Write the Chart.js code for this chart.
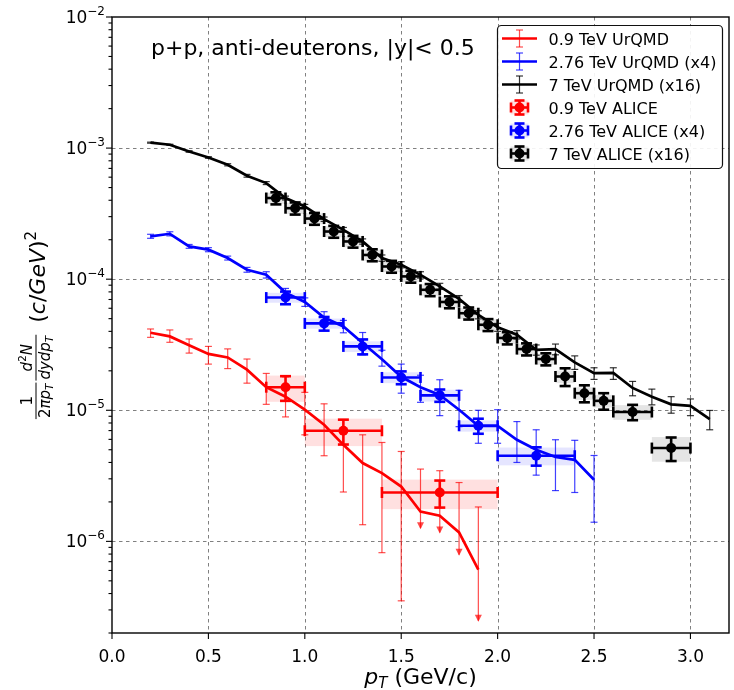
<!DOCTYPE html>
<html>
<head>
<meta charset="utf-8">
<script src="https://cdn.jsdelivr.net/npm/chart.js@4.4.0/dist/chart.umd.min.js"></script>
<style>
  html, body { margin:0; padding:0; background:#fff; }
  #wrap { width:734px; height:690px; }
</style>
</head>
<body>
<div id="wrap"><canvas id="c" width="734" height="690"></canvas></div>
<script>
/* ---------- data ---------- */

// UrQMD 0.9 TeV
const urq09X  = [0.2,0.3,0.4,0.5,0.6,0.7,0.8,0.9,1.0,1.1,1.2,1.3,1.4,1.5,1.6,1.7,1.8,1.9];
const urq09Y  = [3.9e-5,3.66e-5,3.13e-5,2.69e-5,2.53e-5,2.04e-5,1.50e-5,1.27e-5,1.01e-5,7.75e-6,5.45e-6,3.96e-6,3.32e-6,2.62e-6,1.69e-6,1.57e-6,1.17e-6,6.1e-7];
const urq09Lo = [3.6e-5,3.3e-5,2.73e-5,2.25e-5,2.08e-5,1.61e-5,1.11e-5,8.9e-6,6.5e-6,4.5e-6,2.38e-6,1.34e-6,8.2e-7,3.52e-7,1.26e-6,1.17e-6,7.9e-7,2.48e-7];
const urq09Hi = [4.17e-5,4.1e-5,3.5e-5,3.07e-5,2.94e-5,2.46e-5,1.91e-5,1.80e-5,1.37e-5,1.12e-5,8.47e-6,6.5e-6,5.68e-6,4.85e-6,3.56e-6,3.46e-6,2.81e-6,1.83e-6];
const urq09Arrow = [0,0,0,0,0,0,0,0,0,0,0,0,0,0,1,1,1,1];

// UrQMD 2.76 TeV (x4)
const urq276X  = [0.2,0.3,0.4,0.5,0.6,0.7,0.8,0.9,1.0,1.1,1.2,1.3,1.4,1.5,1.6,1.7,1.8,1.9,2.0,2.1,2.2,2.3,2.4,2.5];
const urq276Y  = [2.12e-4,2.22e-4,1.78e-4,1.68e-4,1.45e-4,1.18e-4,1.08e-4,7.9e-5,6.7e-5,5.1e-5,4.36e-5,3.26e-5,2.45e-5,1.8e-5,1.5e-5,1.31e-5,1.01e-5,7.6e-6,7.6e-6,5.96e-6,5.0e-6,4.4e-6,4.19e-6,2.95e-6];
const urq276Lo = [2.05e-4,2.14e-4,1.72e-4,1.62e-4,1.40e-4,1.13e-4,1.02e-4,7.35e-5,6.2e-5,4.6e-5,3.9e-5,2.65e-5,2.17e-5,1.35e-5,1.15e-5,9.1e-6,7.5e-6,5.6e-6,5.6e-6,4.0e-6,3.2e-6,2.44e-6,2.36e-6,1.40e-6];
const urq276Hi = [2.2e-4,2.3e-4,1.84e-4,1.74e-4,1.50e-4,1.23e-4,1.14e-4,8.5e-5,7.2e-5,5.65e-5,4.85e-5,3.92e-5,2.87e-5,2.25e-5,1.85e-5,1.71e-5,1.42e-5,1.0e-5,1.01e-5,8.2e-6,7.1e-6,5.96e-6,5.9e-6,4.52e-6];

// UrQMD 7 TeV (x16)
const urq7X  = [0.2,0.3,0.4,0.5,0.6,0.7,0.8,0.9,1.0,1.1,1.2,1.3,1.4,1.5,1.6,1.7,1.8,1.9,2.0,2.1,2.2,2.3,2.4,2.5,2.6,2.7,2.8,2.9,3.0,3.1];
const urq7Y  = [1.10e-3,1.06e-3,9.42e-4,8.48e-4,7.46e-4,6.15e-4,5.41e-4,4.16e-4,3.59e-4,2.87e-4,2.38e-4,1.94e-4,1.45e-4,1.29e-4,1.08e-4,8.8e-5,7.08e-5,5.35e-5,4.3e-5,3.77e-5,2.89e-5,2.93e-5,2.32e-5,1.92e-5,1.93e-5,1.48e-5,1.27e-5,1.11e-5,1.08e-5,8.57e-6];
const urq7Lo = [1.09e-3,1.05e-3,9.3e-4,8.36e-4,7.32e-4,6.0e-4,5.27e-4,4.02e-4,3.46e-4,2.76e-4,2.28e-4,1.85e-4,1.37e-4,1.22e-4,1.02e-4,8.35e-5,6.65e-5,4.98e-5,4.0e-5,3.5e-5,2.63e-5,2.65e-5,2.05e-5,1.72e-5,1.72e-5,1.29e-5,1.10e-5,9.5e-6,9.1e-6,7.1e-6];
const urq7Hi = [1.11e-3,1.07e-3,9.55e-4,8.6e-4,7.6e-4,6.3e-4,5.55e-4,4.3e-4,3.72e-4,2.98e-4,2.48e-4,2.03e-4,1.53e-4,1.36e-4,1.14e-4,9.3e-5,7.5e-5,5.75e-5,4.6e-5,4.05e-5,3.15e-5,3.2e-5,2.6e-5,2.11e-5,2.11e-5,1.66e-5,1.45e-5,1.27e-5,1.22e-5,9.97e-6];

// ALICE 0.9 TeV
const ali09X    = [0.9,1.2,1.7];
const ali09HalfW= [0.1,0.2,0.3];
const ali09Y    = [1.5e-5,6.98e-6,2.36e-6];
const ali09Stat = [3.2e-6,1.5e-6,5.5e-7];
const ali09Sys  = [3.4e-6,1.65e-6,6.0e-7];

// ALICE 2.76 TeV (x4)
const ali276X    = [0.9,1.1,1.3,1.5,1.7,1.9,2.2];
const ali276HalfW= [0.1,0.1,0.1,0.1,0.1,0.1,0.2];
const ali276Y    = [7.24e-5,4.6e-5,3.07e-5,1.78e-5,1.30e-5,7.62e-6,4.5e-6];
const ali276Stat = [8.0e-6,5.5e-6,4.0e-6,2.0e-6,1.4e-6,1.0e-6,7.2e-7];
const ali276Sys  = [6.3e-6,4.1e-6,2.9e-6,1.7e-6,1.35e-6,7.5e-7,7.0e-7];

// ALICE 7 TeV (x16)
const ali7X    = [0.85,0.95,1.05,1.15,1.25,1.35,1.45,1.55,1.65,1.75,1.85,1.95,2.05,2.15,2.25,2.35,2.45,2.55,2.7,2.9];
const ali7HalfW= [0.05,0.05,0.05,0.05,0.05,0.05,0.05,0.05,0.05,0.05,0.05,0.05,0.05,0.05,0.05,0.05,0.05,0.05,0.1,0.1];
const ali7Y    = [4.16e-4,3.48e-4,2.9e-4,2.31e-4,1.94e-4,1.53e-4,1.25e-4,1.05e-4,8.3e-5,6.7e-5,5.5e-5,4.49e-5,3.56e-5,2.93e-5,2.46e-5,1.81e-5,1.35e-5,1.18e-5,9.7e-6,5.15e-6];
const ali7Stat = [4.4e-5,3.7e-5,3.0e-5,2.4e-5,2.0e-5,1.6e-5,1.3e-5,1.1e-5,8.8e-6,7.0e-6,5.8e-6,4.7e-6,3.8e-6,3.1e-6,2.6e-6,2.8e-6,2.0e-6,1.7e-6,1.3e-6,1.05e-6];
const ali7Sys  = [4.0e-5,3.4e-5,2.8e-5,2.2e-5,1.9e-5,1.5e-5,1.2e-5,1.0e-5,8.2e-6,6.6e-6,5.4e-6,4.4e-6,3.5e-6,2.9e-6,2.4e-6,2.0e-6,1.5e-6,1.3e-6,1.25e-6,1.1e-6];

// axes / text
const xTicks   = [0.0,0.5,1.0,1.5,2.0,2.5,3.0];
const yDecades = [-6,-5,-4,-3,-2];
const X_MIN = 0, X_MAX = 3.2, Y_MIN = 2e-7, Y_MAX = 1e-2;
const TITLE = 'p+p, anti-deuterons, |y|< 0.5';
const legendLabels = ['0.9 TeV UrQMD','2.76 TeV UrQMD (x4)','7 TeV UrQMD (x16)',
                      '0.9 TeV ALICE','2.76 TeV ALICE (x4)','7 TeV ALICE (x16)'];

/* ---------- styling ---------- */
const RED = '#ff0000', BLUE = '#0000ff', BLK = '#000000';
const FONT = '"DejaVu Sans", sans-serif';

const urqmd = [
  { x:urq09X,  y:urq09Y,  lo:urq09Lo,  hi:urq09Hi,  arrow:urq09Arrow, col:RED,  bar:'rgba(255,0,0,0.7)' },
  { x:urq276X, y:urq276Y, lo:urq276Lo, hi:urq276Hi, arrow:null,       col:BLUE, bar:'rgba(0,0,255,0.75)' },
  { x:urq7X,   y:urq7Y,   lo:urq7Lo,   hi:urq7Hi,   arrow:null,       col:BLK,  bar:'rgba(0,0,0,0.8)' },
];
const alice = [
  { x:ali09X,  hw:ali09HalfW,  y:ali09Y,  stat:ali09Stat,  sys:ali09Sys,  col:RED,  box:'rgba(255,0,0,0.12)' },
  { x:ali276X, hw:ali276HalfW, y:ali276Y, stat:ali276Stat, sys:ali276Sys, col:BLUE, box:'rgba(0,0,255,0.10)' },
  { x:ali7X,   hw:ali7HalfW,   y:ali7Y,   stat:ali7Stat,   sys:ali7Sys,   col:BLK,  box:'rgba(0,0,0,0.10)' },
];

/* ---------- helpers ---------- */
function seg(ctx, x1, y1, x2, y2) {
  ctx.beginPath(); ctx.moveTo(x1, y1); ctx.lineTo(x2, y2); ctx.stroke();
}
// draw runs of text [{t,f,dy}] starting at x; returns width
function runs(ctx, parts, x, y, measure) {
  let w = 0;
  parts.forEach(p => {
    ctx.font = p.f;
    if (!measure) ctx.fillText(p.t, x + w, y + (p.dy || 0));
    w += ctx.measureText(p.t).width;
  });
  return w;
}

/* ---------- decoration plugin ---------- */
const decor = {
  id: 'decor',
  beforeDatasetsDraw(ch) {
    const ctx = ch.ctx, a = ch.chartArea, xs = ch.scales.x, ys = ch.scales.y;
    ctx.save();
    // grid
    ctx.strokeStyle = '#808080'; ctx.lineWidth = 1; ctx.setLineDash([3.5, 3.5]);
    xTicks.forEach(v => {
      if (v <= X_MIN) return;
      const px = Math.round(xs.getPixelForValue(v)) + 0.5;
      seg(ctx, px, a.top, px, a.bottom);
    });
    yDecades.forEach(d => {
      const py = Math.round(ys.getPixelForValue(Math.pow(10, d))) + 0.5;
      if (py <= a.top + 1) return;
      seg(ctx, a.left, py, a.right, py);
    });
    ctx.setLineDash([]);

    ctx.beginPath(); ctx.rect(a.left, a.top, a.right - a.left, a.bottom - a.top); ctx.clip();

    // systematic boxes
    alice.forEach(s => {
      ctx.fillStyle = s.box;
      s.x.forEach((x, i) => {
        const x1 = xs.getPixelForValue(x - s.hw[i]), x2 = xs.getPixelForValue(x + s.hw[i]);
        const y1 = ys.getPixelForValue(s.y[i] + s.sys[i]), y2 = ys.getPixelForValue(s.y[i] - s.sys[i]);
        ctx.fillRect(x1, y1, x2 - x1, y2 - y1);
      });
    });

    // UrQMD error bars (thin)
    urqmd.forEach(s => {
      ctx.strokeStyle = s.bar; ctx.fillStyle = s.bar; ctx.lineWidth = 1.2;
      s.x.forEach((x, i) => {
        const px = xs.getPixelForValue(x);
        const pHi = ys.getPixelForValue(s.hi[i]), pLo = ys.getPixelForValue(s.lo[i]);
        seg(ctx, px, pHi, px, pLo);
        seg(ctx, px - 3.5, pHi, px + 3.5, pHi);
        if (s.arrow && s.arrow[i]) {
          ctx.beginPath();
          ctx.moveTo(px - 3.5, pLo - 6); ctx.lineTo(px + 3.5, pLo - 6); ctx.lineTo(px, pLo + 1);
          ctx.closePath(); ctx.fill();
        } else {
          seg(ctx, px - 3.5, pLo, px + 3.5, pLo);
        }
      });
    });
    ctx.restore();
  },
  afterDatasetsDraw(ch) {
    const ctx = ch.ctx, xs = ch.scales.x, ys = ch.scales.y;
    ctx.save();
    ctx.lineWidth = 2.6; ctx.lineCap = 'butt';
    alice.forEach(s => {
      ctx.strokeStyle = s.col;
      s.x.forEach((x, i) => {
        const px = xs.getPixelForValue(x), py = ys.getPixelForValue(s.y[i]);
        const x1 = xs.getPixelForValue(x - s.hw[i]), x2 = xs.getPixelForValue(x + s.hw[i]);
        const y1 = ys.getPixelForValue(s.y[i] + s.stat[i]), y2 = ys.getPixelForValue(s.y[i] - s.stat[i]);
        seg(ctx, x1, py, x2, py);
        seg(ctx, x1, py - 5.5, x1, py + 5.5);
        seg(ctx, x2, py - 5.5, x2, py + 5.5);
        seg(ctx, px, y1, px, y2);
        seg(ctx, px - 5.5, y1, px + 5.5, y1);
        seg(ctx, px - 5.5, y2, px + 5.5, y2);
      });
    });
    ctx.restore();
  },
  afterDraw(ch) {
    const ctx = ch.ctx, a = ch.chartArea, xs = ch.scales.x, ys = ch.scales.y;
    ctx.save();
    ctx.fillStyle = '#000'; ctx.strokeStyle = '#000';

    // spines
    ctx.lineWidth = 1.4;
    ctx.strokeRect(a.left, a.top, a.right - a.left, a.bottom - a.top);

    // x ticks + labels
    ctx.lineWidth = 1.1;
    ctx.font = '17px ' + FONT; ctx.textAlign = 'center'; ctx.textBaseline = 'alphabetic';
    xTicks.forEach(v => {
      const px = xs.getPixelForValue(v);
      seg(ctx, px, a.bottom, px, a.bottom + 6);
      ctx.fillText(v.toFixed(1), px, a.bottom + 29);
    });

    // y ticks (major + minor) + labels
    for (let d = -7; d <= -2; d++) {
      for (let m = 1; m <= 9; m++) {
        const v = m * Math.pow(10, d);
        if (v < Y_MIN * 0.999 || v > Y_MAX * 1.001) continue;
        const py = ys.getPixelForValue(v);
        seg(ctx, a.left, py, a.left - (m === 1 ? 6 : 3.5), py);
      }
    }
    ctx.textAlign = 'left';
    yDecades.forEach(d => {
      const py = ys.getPixelForValue(Math.pow(10, d));
      const sup = '\u2212' + Math.abs(d);
      ctx.font = '12px ' + FONT; const ws = ctx.measureText(sup).width;
      ctx.font = '17px ' + FONT; const wb = ctx.measureText('10').width;
      const xr = a.left - 7;
      ctx.fillText('10', xr - ws - wb, py + 6);
      ctx.font = '12px ' + FONT;
      ctx.fillText(sup, xr - ws, py - 2);
    });

    // x axis label
    const xl = [
      { t:'p', f:'italic 22px ' + FONT },
      { t:'T', f:'italic 15px ' + FONT, dy:4 },
      { t:' (GeV/c)', f:'22px ' + FONT },
    ];
    const xlw = runs(ctx, xl, 0, 0, true);
    runs(ctx, xl, (a.left + a.right) / 2 - xlw / 2, 684);

    // y axis label (rotated)
    ctx.save();
    ctx.translate(36, 0); ctx.rotate(-Math.PI / 2);
    const fs = '15px ' + FONT, fi = 'italic 15px ' + FONT, fsub = 'italic 10.5px ' + FONT;
    const num1 = [{ t:'1', f:fs }];
    const den1 = [{ t:'2', f:fs }, { t:'\u03c0p', f:fi }, { t:'T', f:fsub, dy:3 }];
    const num2 = [{ t:'d', f:fi }, { t:'2', f:'10.5px ' + FONT, dy:-6 }, { t:'N', f:fi }];
    const den2 = [{ t:'dydp', f:fi }, { t:'T', f:fsub, dy:3 }];
    const unit = [{ t:'(', f:'22px ' + FONT }, { t:'c', f:'italic 22px ' + FONT }, { t:'/', f:'22px ' + FONT },
                  { t:'GeV', f:'italic 22px ' + FONT }, { t:')', f:'22px ' + FONT }, { t:'2', f:'15px ' + FONT, dy:-9 }];
    const wn1 = runs(ctx, num1, 0, 0, true), wd1 = runs(ctx, den1, 0, 0, true);
    const wn2 = runs(ctx, num2, 0, 0, true), wd2 = runs(ctx, den2, 0, 0, true);
    const wu = runs(ctx, unit, 0, 0, true);
    const w1 = Math.max(wn1, wd1) + 2, w2 = Math.max(wn2, wd2) + 2;
    const total = w1 + 2 + w2 + 12 + wu;
    let s = -((a.top + a.bottom) / 2) - total / 2;
    ctx.lineWidth = 1;
    runs(ctx, num1, s + (w1 - wn1) / 2, -4);
    runs(ctx, den1, s + (w1 - wd1) / 2, 14);
    seg(ctx, s, 0, s + w1, 0);
    s += w1 + 2;
    runs(ctx, num2, s + (w2 - wn2) / 2, -4);
    runs(ctx, den2, s + (w2 - wd2) / 2, 14);
    seg(ctx, s, 0, s + w2, 0);
    s += w2 + 12;
    runs(ctx, unit, s, 9);
    ctx.restore();

    // title
    ctx.font = '22px ' + FONT; ctx.textAlign = 'left';
    ctx.fillText(TITLE, 151, 55);

    // legend
    const L = { x:497.5, y:25.5, w:225, h:143, row0:38.5, step:23 };
    ctx.beginPath(); ctx.roundRect(L.x, L.y, L.w, L.h, 4);
    ctx.fillStyle = 'rgba(255,255,255,0.9)'; ctx.fill();
    ctx.strokeStyle = '#111'; ctx.lineWidth = 1.2; ctx.stroke();
    const hx = 519.5;
    legendLabels.forEach((lab, i) => {
      const ry = L.row0 + i * L.step;
      if (i < 3) {
        const s = urqmd[i];
        ctx.strokeStyle = s.col; ctx.lineWidth = 2.7;
        seg(ctx, 502, ry, 537, ry);
        ctx.strokeStyle = s.bar; ctx.lineWidth = 1.2;
        seg(ctx, hx, ry - 8.5, hx, ry + 8.5);
        seg(ctx, hx - 3.5, ry - 8.5, hx + 3.5, ry - 8.5);
        seg(ctx, hx - 3.5, ry + 8.5, hx + 3.5, ry + 8.5);
      } else {
        const s = alice[i - 3];
        ctx.fillStyle = s.box; ctx.fillRect(hx - 9, ry - 7, 18, 14);
        ctx.strokeStyle = s.col; ctx.lineWidth = 2.6;
        seg(ctx, hx - 8.5, ry, hx + 8.5, ry);
        seg(ctx, hx - 8.5, ry - 5, hx - 8.5, ry + 5);
        seg(ctx, hx + 8.5, ry - 5, hx + 8.5, ry + 5);
        seg(ctx, hx, ry - 7, hx, ry + 7);
        seg(ctx, hx - 5, ry - 7, hx + 5, ry - 7);
        seg(ctx, hx - 5, ry + 7, hx + 5, ry + 7);
        ctx.fillStyle = s.col;
        ctx.beginPath(); ctx.arc(hx, ry, 5, 0, Math.PI * 2); ctx.fill();
      }
      ctx.fillStyle = '#000'; ctx.font = '16px ' + FONT; ctx.textAlign = 'left';
      ctx.fillText(lab, 548.5, ry + 6);
    });
    ctx.restore();
  }
};

/* ---------- datasets ---------- */
const datasets = [];
urqmd.forEach(s => datasets.push({
  type:'line', data: s.x.map((x, i) => ({ x, y: s.y[i] })),
  borderColor: s.col, borderWidth: 2.7, pointRadius: 0, tension: 0, fill: false, order: 2,
}));
alice.forEach(s => datasets.push({
  type:'scatter', data: s.x.map((x, i) => ({ x, y: s.y[i] })),
  backgroundColor: s.col, borderColor: s.col, borderWidth: 0,
  pointRadius: 5, pointHoverRadius: 5, order: 1,
}));

new Chart(document.getElementById('c'), {
  type: 'scatter',
  data: { datasets },
  options: {
    responsive: false, animation: false, devicePixelRatio: 1,
    layout: { padding: { left: 112, right: 2, top: 17, bottom: 57 } },
    plugins: { legend: { display: false }, tooltip: { enabled: false } },
    scales: {
      x: { type: 'linear', display: false, min: X_MIN, max: X_MAX },
      y: { type: 'logarithmic', display: false, min: Y_MIN, max: Y_MAX },
    },
  },
  plugins: [decor],
});
</script>
</body>
</html>
